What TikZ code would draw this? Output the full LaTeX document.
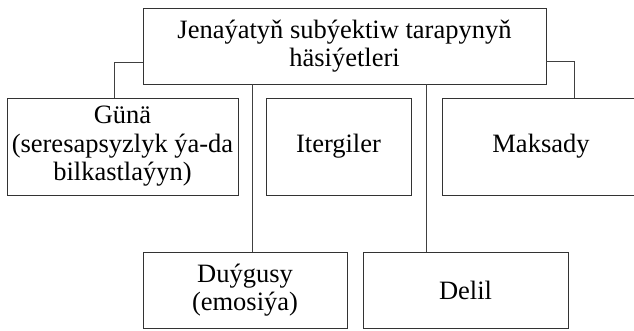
\documentclass[tikz,border=0pt]{standalone}
\usepackage{fontspec}
\setmainfont{Liberation Serif}
\usepackage{tikz}
\usetikzlibrary{positioning, calc}

\begin{document}
\begin{tikzpicture}[x=1pt, y=-1pt,
  font=\fontsize{26.5}{28.5}\selectfont,
  box/.style={draw=black!80, line width=0.9pt, align=center, inner sep=0pt, outer sep=0pt},
  link/.style={draw=black!75, line width=0.9pt}]
\useasboundingbox (0,0) rectangle (634,330);
% top
\node[box, minimum width=403pt, minimum height=76pt] (subj) at (344.5,46) {Jenaýatyň subýektiw tarapynyň\\ häsiýetleri};
% first row
\node[box, minimum width=231pt, minimum height=97pt] (guna) at (122.5,146.5) {Günä\\ (seresapsyzlyk ýa-da\\ bilkastlaýyn)};
\node[box, minimum width=145pt, minimum height=97pt] (iter) at (338.5,146.5) {Itergiler};
\node[box, minimum width=198pt, minimum height=97pt] (maks) at (541,146.5) {Maksady};
% second row
\node[box, minimum width=204pt, minimum height=76pt] (duyg) at (245,290) {Duýgusy\\ (emosiýa)};
\node[box, minimum width=205pt, minimum height=76pt] (delil) at (465.5,290) {Delil};
% connectors
\draw[link] ([yshift=-16pt]subj.west) -| ([xshift=-8.5pt]guna.north);
\draw[link] ([yshift=-15pt]subj.east) -| ([xshift=33pt]maks.north);
\draw[link] ([xshift=7pt]duyg.north) -- ([xshift=7pt]duyg.north |- subj.south);
\draw[link] ([xshift=-39.5pt]delil.north) -- ([xshift=-39.5pt]delil.north |- subj.south);
\end{tikzpicture}
\end{document}
